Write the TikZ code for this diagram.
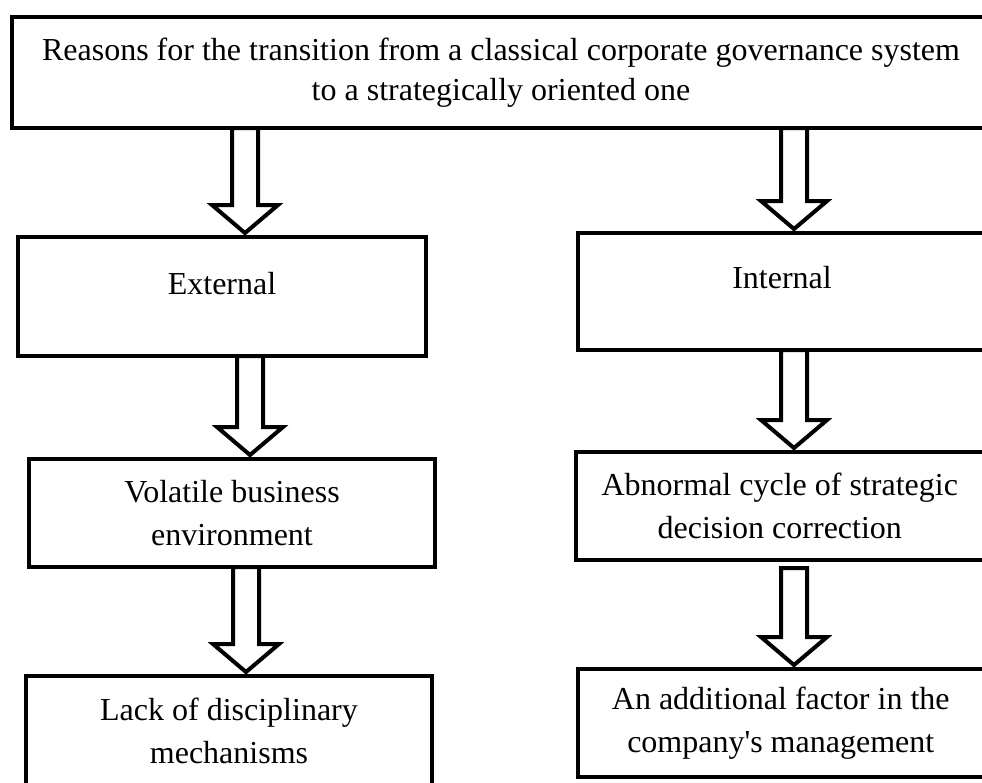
\documentclass[tikz,border=0pt]{standalone}
\usepackage{fontspec}
\setmainfont{Liberation Serif}
\usetikzlibrary{calc}
\tikzset{
box/.style={draw,line width=4pt,outer sep=0pt,inner sep=0pt,align=center,font=\fontsize{32}{43}\selectfont},
hollow/.style={draw,line width=4pt,line join=miter}
}
\newcommand\hollowarrow[4][0]{%
\path(#2 |- #3)coordinate(ha-s)(#2 |- #4)++(0,-4)coordinate(ha-e);
\draw[hollow]($(ha-s)+(-13,#1)$)--($(ha-e)+(-13,-28)$)--($(ha-e)+(-33,-28)$)--(ha-e)
--($(ha-e)+(33,-28)$)--($(ha-e)+(13,-28)$)--($(ha-s)+(13,#1)$)--cycle;}
\begin{document}
\begin{tikzpicture}[x=1pt,y=-1pt]
\clip(0,0)rectangle(982,782);
\node[box,minimum width=978pt,minimum height=111pt,font=\fontsize{32}{40}\selectfont](reason)at(501,72.5)
{Reasons for the transition from a classical corporate governance system\\to a strategically oriented one};
\node[box,minimum width=408pt,minimum height=119pt,text depth=27pt](ext)at(222,296.5){External};
\node[box,minimum width=408pt,minimum height=117pt,text depth=28pt](int)at(782,291.5){Internal};
\node[box,minimum width=406pt,minimum height=108pt](vol)at(232,513){Volatile business\\environment};
\node[box,minimum width=406pt,minimum height=110pt](lack)at(229,731){Lack of disciplinary\\mechanisms};
\node[box,minimum width=407.5pt,minimum height=108pt](abn)at(779.75,506){Abnormal cycle of strategic\\decision correction};
\node[box,minimum width=405.5pt,minimum height=108pt](add)at(780.75,723){An additional factor in the\\company\textquotesingle s management};
\hollowarrow{245,0}{reason.south}{ext.north}
\hollowarrow{794,0}{reason.south}{int.north}
\hollowarrow{250,0}{ext.south}{vol.north}
\hollowarrow{246,0}{vol.south}{lack.north}
\hollowarrow{794,0}{int.south}{abn.north}
\hollowarrow[8]{794,0}{abn.south}{add.north}
\end{tikzpicture}
\end{document}
